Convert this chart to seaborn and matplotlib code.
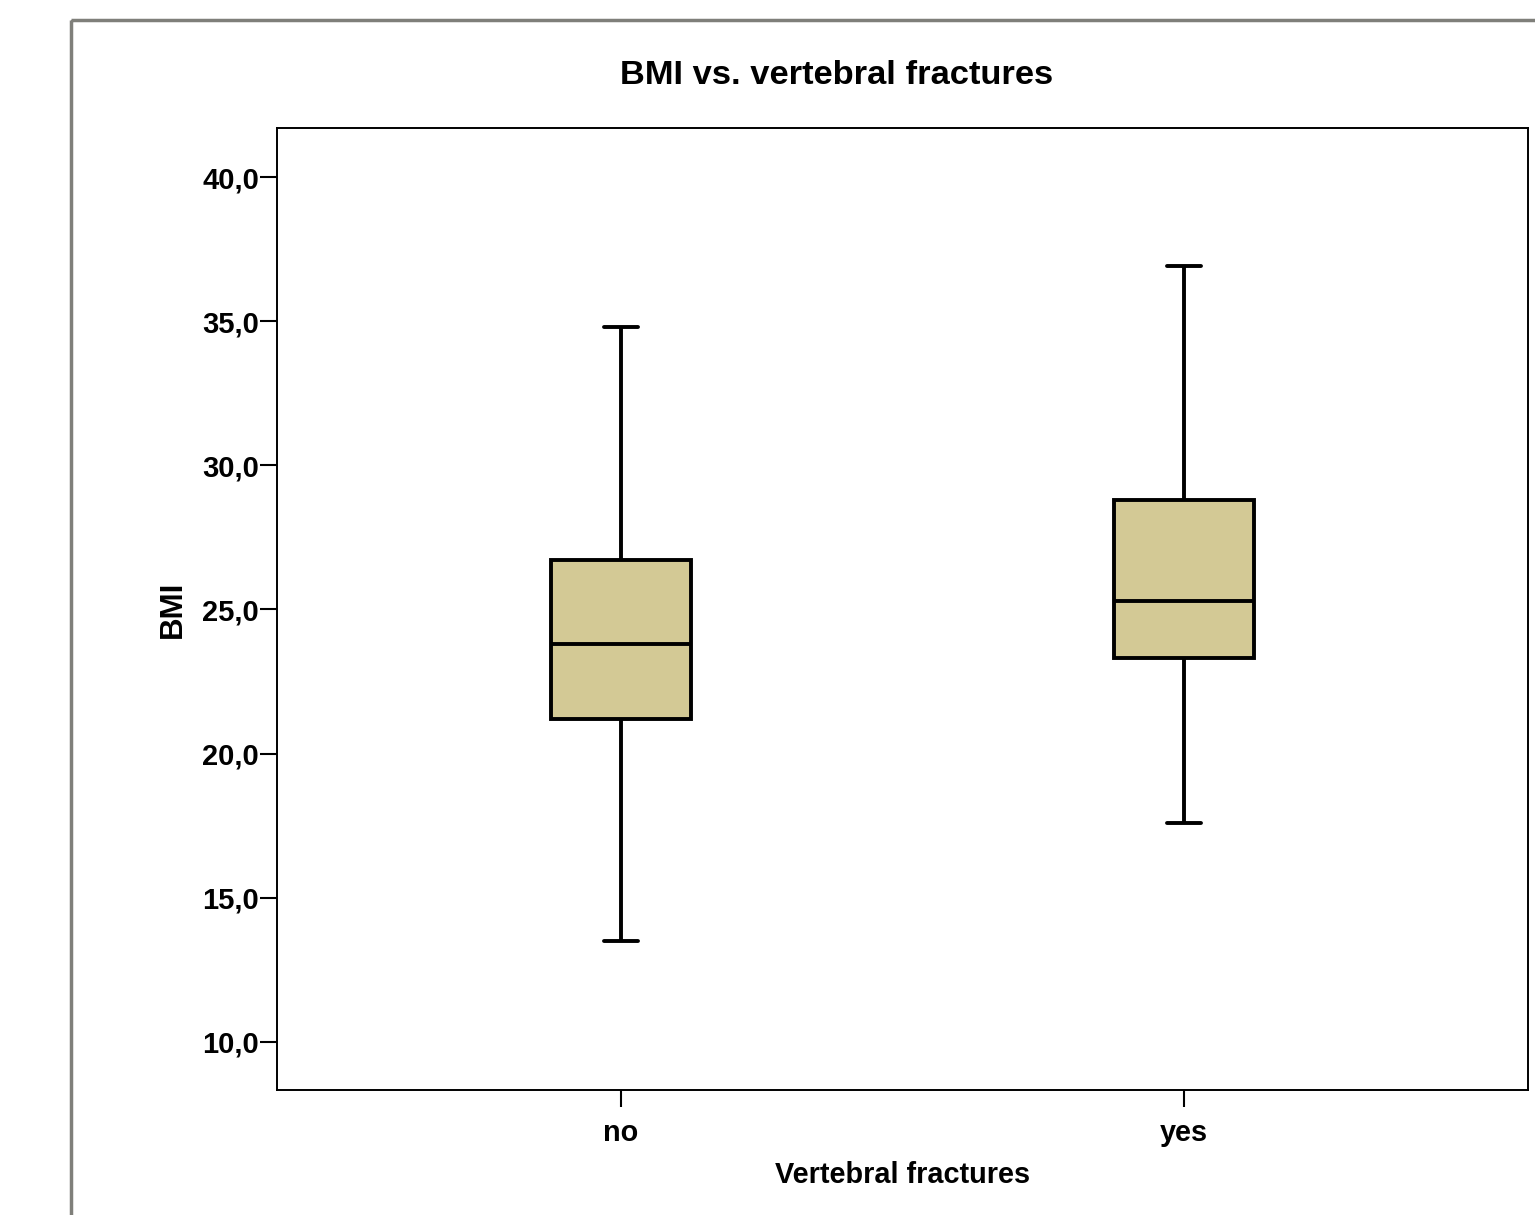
import matplotlib
matplotlib.use("Agg")
import matplotlib.pyplot as plt
from matplotlib.patches import Rectangle
import seaborn as sns
import pandas as pd
import numpy as np

# Data: five-number summaries (min, Q1, median, Q3, max)
categories = ["no", "yes"]
no_values = [13.5, 21.2, 23.8, 26.7, 34.8]
yes_values = [17.6, 23.3, 25.3, 28.8, 36.9]
y_ticks = [10, 15, 20, 25, 30, 35, 40]
y_ticklabels = ["10,0", "15,0", "20,0", "25,0", "30,0", "35,0", "40,0"]

df = pd.DataFrame({
    "Vertebral fractures": [categories[0]] * len(no_values) + [categories[1]] * len(yes_values),
    "BMI": no_values + yes_values,
})

sns.set_theme(style="white")
plt.rcParams['font.family'] = ['Liberation Sans', 'DejaVu Sans']
plt.rcParams['font.weight'] = 'bold'

fig = plt.figure(figsize=(15.35, 12.15), dpi=100)
ax = fig.add_axes([277/1535, 1 - 1090/1215, (1528 - 277)/1535, (1090 - 128)/1215])

lw = 2.8
sns.boxplot(data=df, x="Vertebral fractures", y="BMI", order=categories,
            color="#D3C995", width=0.249, whis=(0, 100), linecolor="black",
            linewidth=lw, fliersize=0, capwidths=0.062, ax=ax,
            boxprops=dict(facecolor="#D3C995", edgecolor="black", linewidth=lw),
            medianprops=dict(color="black", linewidth=lw),
            whiskerprops=dict(color="black", linewidth=lw),
            capprops=dict(color="black", linewidth=lw))

ax.set_xlim(-0.611, 1.611)
ax.set_ylim(8.33, 41.7)
ax.set_yticks(y_ticks)
ax.set_yticklabels(y_ticklabels)

for s in ax.spines.values():
    s.set_visible(True)
    s.set_color("black")
    s.set_linewidth(1.4)

ax.tick_params(axis="both", which="major", direction="out", length=12, width=1.5,
               color="black", labelcolor="black")
ax.tick_params(axis="y", pad=1, labelsize=21)
ax.tick_params(axis="x", pad=9, labelsize=20.8)
ax.yaxis.set_ticks_position("left")
ax.xaxis.set_ticks_position("bottom")
for lab in ax.get_xticklabels() + ax.get_yticklabels():
    lab.set_fontweight("bold")

ax.set_xlabel("Vertebral fractures", fontsize=20.8, fontweight="bold", color="black", labelpad=10)
ax.set_ylabel("BMI", fontsize=22.5, fontweight="bold", color="black", labelpad=10)
ax.grid(False)

fig.text(837/1535, 1 - 75/1215, "BMI vs. vertebral fractures", ha="center", va="center",
         fontsize=24.8, fontweight="bold", color="black")

# outer gray frame
frame = Rectangle((71/1535, 1 - 20/1215), 2.0, -2.0, transform=fig.transFigure,
                  fill=False, edgecolor="#7f7f7a", linewidth=2.5, clip_on=False)
fig.patches.append(frame)

fig.savefig("out.png", dpi=100)
